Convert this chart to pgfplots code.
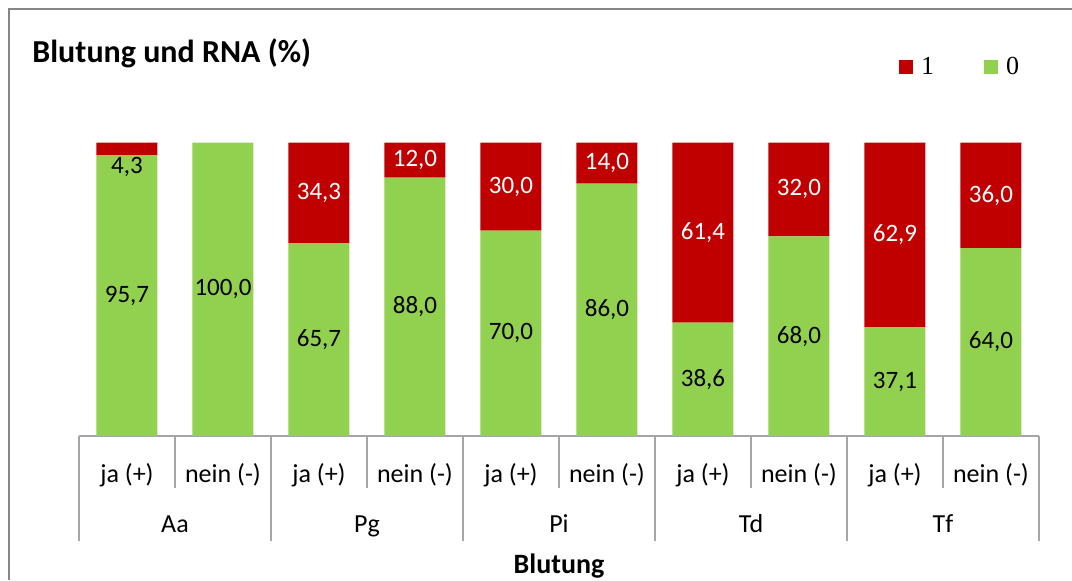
\documentclass[border=0pt]{standalone}
\usepackage{pgfplots}
\pgfplotsset{compat=1.18}
\usepackage{pgfplotstable}
\usepackage{fontspec}
\setmainfont{Carlito}
\newfontfamily\legfont{Liberation Serif}
\definecolor{cred}{RGB}{192,0,0}
\definecolor{cgreen}{RGB}{146,208,80}
\definecolor{sepgray}{RGB}{166,166,166}
\definecolor{framegray}{RGB}{134,134,134}

\pgfplotstableread{
x zero one
0 95.7 4.3
1 100.0 0.0
2 65.7 34.3
3 88.0 12.0
4 70.0 30.0
5 86.0 14.0
6 38.6 61.4
7 68.0 32.0
8 37.1 62.9
9 64.0 36.0
}\datatable

\pgfplotstableread{
x y lab
0 91.65 4,3
0 47.85 95,7
1 50.0 100,0
2 32.85 65,7
3 44.0 88,0
4 35.0 70,0
5 43.0 86,0
6 19.3 38,6
7 34.0 68,0
8 18.55 37,1
9 32.0 64,0
}\blacklabels

\pgfplotstableread{
x y lab
2 82.85 34,3
3 94.0 12,0
4 85.0 30,0
5 93.0 14,0
6 69.3 61,4
7 84.0 32,0
8 68.55 62,9
9 82.0 36,0
}\whitelabels

\begin{document}
\begin{tikzpicture}
\begin{axis}[
  name=ax,
  scale only axis, width=480pt, height=146.75pt,
  xmin=-0.5, xmax=9.5, ymin=0, ymax=100,
  ybar stacked, bar width=30.5pt,
  axis x line*=bottom, axis y line=none,
  x axis line style={-, sepgray, line width=0.7pt},
  xtick={0,...,9},
  xticklabels={ja (+), nein (-), ja (+), nein (-), ja (+), nein (-), ja (+), nein (-), ja (+), nein (-)},
  major tick length=0pt,
  minor xtick={0.5,2.5,4.5,6.5,8.5},
  minor tick length=26pt,
  tick align=outside,
  extra x ticks={-0.5,1.5,3.5,5.5,7.5,9.5},
  extra x tick labels={},
  extra x tick style={major tick length=52.5pt},
  every tick/.style={sepgray, line width=0.7pt},
  xticklabel style={anchor=base, yshift=-23pt, font=\fontsize{13}{15}\selectfont},
  legend columns=2,
  reverse legend,
  legend style={at={(axis description cs:0.854,1.257)}, anchor=west, draw=none, fill=none, inner sep=0pt,
    font=\legfont\fontsize{13}{15}\selectfont,
    nodes={inner sep=0pt},
    /tikz/every odd column/.append style={column sep=4pt},
    /tikz/every even column/.append style={column sep=25pt}},
  clip=false,
]
\addplot[fill=cgreen, draw=none,
  legend image code/.code={\fill[cgreen] (0pt,-3.5pt) rectangle (7pt,3.5pt);}]
  table[x=x, y=zero] {\datatable};
\addlegendentry{0}
\addplot[fill=cred, draw=none,
  legend image code/.code={\fill[cred] (0pt,-3.5pt) rectangle (7pt,3.5pt);}]
  table[x=x, y=one] {\datatable};
\addlegendentry{1}
\end{axis}
\begin{axis}[
  at={(ax.south west)}, anchor=south west,
  scale only axis, width=480pt, height=146.75pt,
  xmin=-0.5, xmax=9.5, ymin=0, ymax=100,
  hide axis, clip=false,
  nodes near coords, point meta=explicit symbolic,
  every node near coord/.style={anchor=center, inner sep=0pt, font=\fontsize{12.5}{15}\selectfont},
]
\addplot[draw=none, mark=none, every node near coord/.append style={text=black}]
  table[x=x, y=y, meta=lab] {\blacklabels};
\addplot[draw=none, mark=none, every node near coord/.append style={text=white}]
  table[x=x, y=y, meta=lab] {\whitelabels};
\end{axis}
\begin{scope}[shift={(ax.south west)}, x=0.5pt, y=0.5pt]
  \draw[framegray, line width=1.2pt] (9-79, 436-580) -- (9-79, 436-9) -- (1072-79, 436-9);
  \node[anchor=base west, inner sep=0pt, font=\fontsize{16}{19}\selectfont\bfseries] at (32-79, 436-62) {Blutung und RNA (\%)};
  \node[anchor=base, inner sep=0pt, font=\fontsize{14}{17}\selectfont\bfseries] at (559-79, 436-573) {Blutung};
  \node[anchor=base, inner sep=0pt, font=\fontsize{13}{15}\selectfont] at (175-79, 436-532) {Aa};
  \node[anchor=base, inner sep=0pt, font=\fontsize{13}{15}\selectfont] at (367-79, 436-532) {Pg};
  \node[anchor=base, inner sep=0pt, font=\fontsize{13}{15}\selectfont] at (559-79, 436-532) {Pi};
  \node[anchor=base, inner sep=0pt, font=\fontsize{13}{15}\selectfont] at (751-79, 436-532) {Td};
  \node[anchor=base, inner sep=0pt, font=\fontsize{13}{15}\selectfont] at (943-79, 436-532) {Tf};
  \pgfresetboundingbox
  \path[use as bounding box] (-79, 436-580) rectangle (1072-79, 436);
\end{scope}
\end{tikzpicture}
\end{document}
